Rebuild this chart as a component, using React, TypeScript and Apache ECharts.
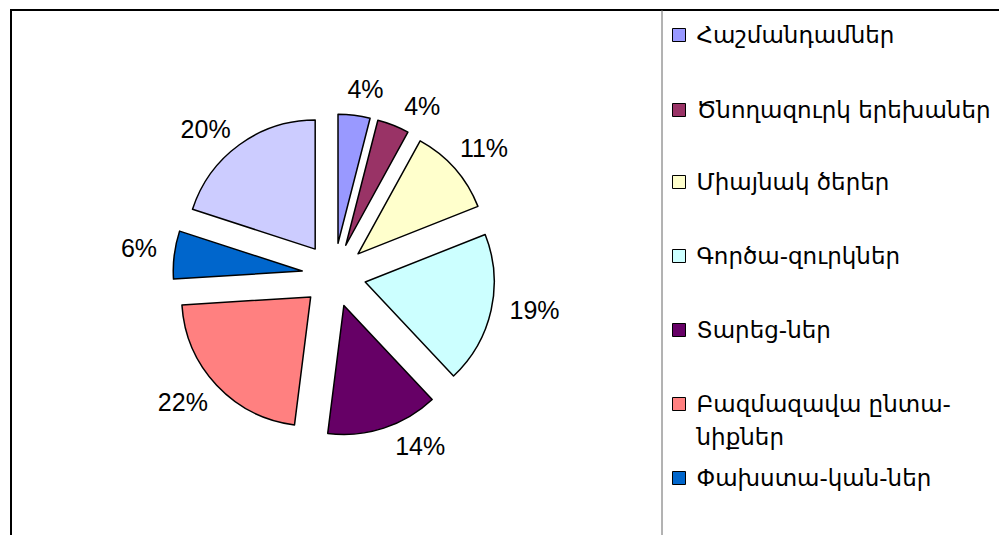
import React, { useEffect, useRef } from 'react';
import * as echarts from 'echarts';

const categories = [
  'Հաշմանդամներ',
  'Ծնողազուրկ երեխաներ',
  'Միայնակ ծերեր',
  'Գործա-զուրկներ',
  'Տարեց-ներ',
  'Բազմազավա ընտա-նիքներ',
  'Փախստա-կան-ներ',
  'Այլ',
];
const values = [4, 4, 11, 19, 14, 22, 6, 20];
const colors = ['#9999FF', '#993366', '#FFFFCC', '#CCFFFF', '#660066', '#FF8080', '#0066CC', '#CCCCFF'];

// layout settings (not data)
const CENTER = [334, 275];
const RADIUS = 129;
const EXPLODE = 32;
const LABEL_R = 147;
const LABEL_ANGLE_SHIFT = [2, 5, -1, -2, -7, 1, 1, -3];
const LEGEND_Y = [35, 110, 182, 256, 330, 404, 478];
const WRAPPED = 'Բազմազավա ընտա-նիքներ';
const WRAPPED_TEXT = '\nԲազմազավա ընտա-\nնիքներ';

export default function App() {
  const ref = useRef<HTMLDivElement>(null);
  useEffect(() => {
    const chart = echarts.init(ref.current!, null, { renderer: 'svg' });
    const total = values.reduce((a, b) => a + b, 0);
    const mids: number[] = [];
    let cum = 0;
    values.forEach((v) => {
      mids.push(((cum + v / 2) / total) * 2 * Math.PI);
      cum += v;
    });

    const legends = LEGEND_Y.map((yc, i) => {
      const name = categories[i];
      const wrapped = name === WRAPPED;
      const lg: any = {
        data: [name],
        orient: 'vertical',
        left: 672,
        top: wrapped ? yc - 49.5 : yc - 14,
        padding: 0,
        itemWidth: 13,
        itemHeight: 13,
        itemGap: 0,
        icon: 'rect',
        selectedMode: false,
        itemStyle: { borderColor: '#000', borderWidth: 1 },
        textStyle: {
          fontFamily: 'DejaVu Sans',
          fontSize: 23,
          color: '#000',
          lineHeight: wrapped ? 33 : 28,
          padding: [0, 0, 0, 6],
        },
      };
      if (wrapped) lg.formatter = () => WRAPPED_TEXT;
      return lg;
    });

    chart.setOption({
      animation: false,
      backgroundColor: '#fff',
      legend: legends,
      graphic: [
        {
          type: 'rect',
          shape: { x: 11, y: 10, width: 1200, height: 800 },
          style: { fill: 'none', stroke: '#000', lineWidth: 2 },
          silent: true,
        },
        {
          type: 'line',
          shape: { x1: 662, y1: 10, x2: 662, y2: 600 },
          style: { stroke: '#666', lineWidth: 1 },
          silent: true,
        },
      ],
      series: [
        {
          type: 'pie',
          center: CENTER,
          radius: RADIUS,
          startAngle: 90,
          clockwise: true,
          selectedMode: 'multiple',
          selectedOffset: EXPLODE,
          silent: true,
          label: { show: false },
          labelLine: { show: false },
          itemStyle: { borderColor: '#000', borderWidth: 1.5 },
          select: { itemStyle: { borderColor: '#000', borderWidth: 1.5 } },
          emphasis: { disabled: true },
          data: categories.map((name, i) => ({
            name,
            value: values[i],
            selected: true,
            itemStyle: { color: colors[i] },
          })),
        },
        {
          type: 'pie',
          center: CENTER,
          radius: RADIUS,
          startAngle: 90,
          clockwise: true,
          silent: true,
          avoidLabelOverlap: false,
          itemStyle: { color: 'rgba(0,0,0,0)', borderWidth: 0 },
          emphasis: { disabled: true },
          label: {
            show: true,
            position: 'outside',
            formatter: '{c}%',
            fontFamily: 'Liberation Sans',
            fontSize: 25,
            color: '#000',
          },
          labelLine: { show: false },
          labelLayout: (p: any) => {
            const th = mids[p.dataIndex] + (LABEL_ANGLE_SHIFT[p.dataIndex] * Math.PI) / 180;
            const dx = Math.sin(th);
            const dy = -Math.cos(th);
            const w = p.labelRect.width;
            const h = 19;
            const d = EXPLODE + LABEL_R;
            return {
              x: CENTER[0] + d * dx + (dx * w) / 2,
              y: CENTER[1] + d * dy + (dy * h) / 2,
              align: 'center',
              verticalAlign: 'middle',
            };
          },
          data: categories.map((name, i) => ({ name, value: values[i] })),
        },
      ],
    });
    return () => chart.dispose();
  }, []);
  return (
    <div
      ref={ref}
      style={{ position: 'fixed', left: 0, top: 0, width: 999, height: 535 }}
    />
  );
}
